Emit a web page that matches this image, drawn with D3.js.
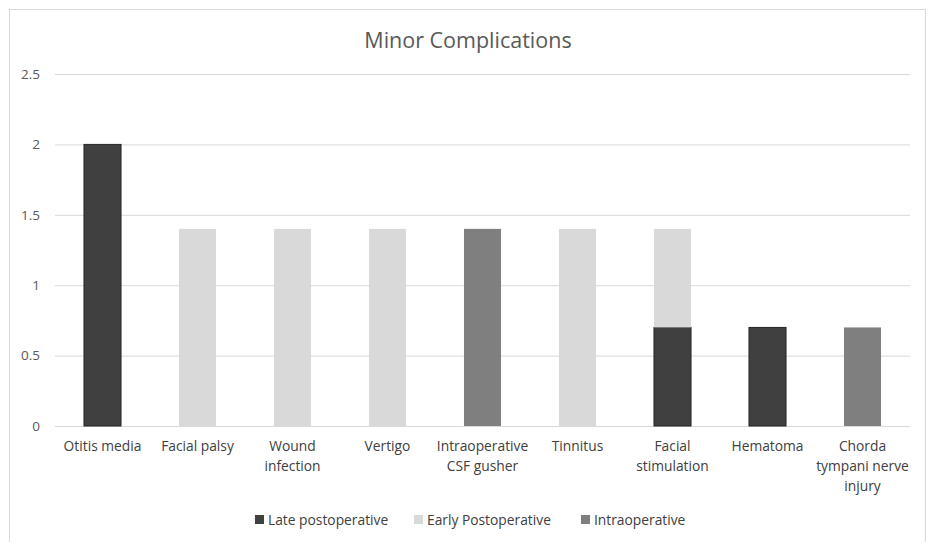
<!DOCTYPE html>
<html><head><meta charset="utf-8">
<script src="https://cdn.jsdelivr.net/npm/d3@7"></script>
<style>body{margin:0;background:#fff}svg{display:block}text{font-family:"Open Sans","Liberation Sans",sans-serif}</style>
</head><body><svg id="c" width="929" height="542"></svg>
<script>
const categories = ["Otitis media","Facial palsy","Wound infection","Vertigo","Intraoperative CSF gusher","Tinnitus","Facial stimulation","Hematoma","Chorda tympani nerve injury"];
const categoryLines = [["Otitis media"],["Facial palsy"],["Wound","infection"],["Vertigo"],["Intraoperative","CSF gusher"],["Tinnitus"],["Facial","stimulation"],["Hematoma"],["Chorda","tympani nerve","injury"]];
const seriesNames = ["Late postoperative","Early Postoperative","Intraoperative"];
const latePostoperative  = [2,0,0,0,0,0,0.7,0.7,0];
const earlyPostoperative = [0,1.4,1.4,1.4,0,1.4,0.7,0,0];
const intraoperative     = [0,0,0,0,1.4,0,0,0,0.7];
const yTicks = [0,0.5,1,1.5,2,2.5];
const title = "Minor Complications";

const colors = ["#404040","#d9d9d9","#7f7f7f"];
const strokes = ["#262626","none","none"];
const svg = d3.select("#c");
svg.append("rect").attr("x",9.5).attr("y",9.5).attr("width",916).attr("height",545)
  .attr("fill","#fff").attr("stroke","#d9d9d9");

const x = d3.scaleBand().domain(categories).range([55,910]).paddingInner(0.61).paddingOuter(0.305);
const y = d3.scaleLinear().domain([0,2.5]).range([426,74]);

svg.append("text").attr("x",468).attr("y",48).attr("text-anchor","middle")
  .attr("font-size",21.5).attr("fill","#595959").text(title);

const g = svg.append("g");
g.append("g")
  .call(d3.axisLeft(y).tickValues(yTicks).tickSize(-(910-55)).tickFormat(d3.format("")))
  .call(a=>a.attr("transform","translate(55,0)"))
  .call(a=>a.select(".domain").remove())
  .call(a=>a.selectAll("line").attr("stroke","#d9d9d9"))
  .call(a=>a.selectAll("text").attr("x",-15).attr("font-size",13.5).attr("fill","#595959"));

const data = categories.map((c,i)=>({cat:c, [seriesNames[0]]:latePostoperative[i],[seriesNames[1]]:earlyPostoperative[i],[seriesNames[2]]:intraoperative[i]}));
const stack = d3.stack().keys(seriesNames)(data);
stack.forEach((s,si)=>{
  g.append("g").selectAll("rect").data(s.filter(d=>d[1]-d[0]>0)).join("rect")
    .attr("x",d=>x(d.data.cat)).attr("width",x.bandwidth())
    .attr("y",d=>y(d[1])).attr("height",d=>y(d[0])-y(d[1]))
    .attr("fill",colors[si]).attr("stroke",strokes[si]).attr("stroke-width",1);
});

const xl = svg.append("g");
categories.forEach((c,i)=>{
  const t = xl.append("text").attr("text-anchor","middle").attr("font-size",13.8).attr("fill","#404040");
  categoryLines[i].forEach((ln,j)=>t.append("tspan").attr("x",x(c)+x.bandwidth()/2).attr("y",451+j*20).text(ln));
});

const legX = [255,414,581];
seriesNames.forEach((n,i)=>{
  svg.append("rect").attr("x",legX[i]).attr("y",515).attr("width",9).attr("height",9).attr("fill",colors[i]);
  svg.append("text").attr("x",legX[i]+13).attr("y",524.5).attr("font-size",13.8).attr("fill","#404040").text(n);
});
</script></body></html>
